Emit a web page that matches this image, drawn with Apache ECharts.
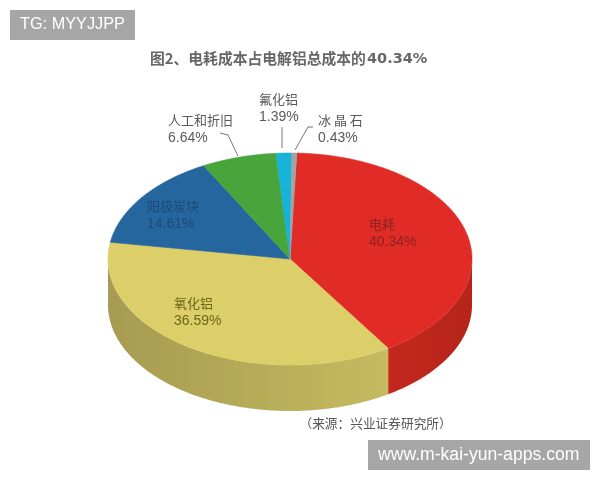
<!DOCTYPE html>
<html>
<head>
<meta charset="utf-8">
<style>html,body{margin:0;padding:0;background:#fff}#c{width:600px;height:480px}</style>
<script src="https://cdn.jsdelivr.net/npm/echarts@6/dist/echarts.min.js"></script>
</head>
<body>
<div id="c"></div>
<script>
var titleHead = '图2、电耗成本占电解铝总成本的';
var titleTail = '40.34%';
var sourceText = '（来源：兴业证券研究所）';
var watermarkTop = 'TG: MYYJJPP';
var watermarkBottom = 'www.m-kai-yun-apps.com';
var categories = ['电耗', '氧化铝', '阳极炭块', '人工和折旧', '氟化铝', '冰晶石'];
var shares = [40.34, 36.59, 14.61, 6.64, 1.39, 0.43];
var topColors = ['#e02b27', '#dccf69', '#26669f', '#47a53c', '#17b2d8', '#a3a3a3'];
var wallColors = [['#c4281e', '#b5241a'], ['#a69b50', '#c6ba60'], ['#1c4f7c', '#1c4f7c'], ['#357c2d', '#357c2d'], ['#1089a8', '#1089a8'], ['#808080', '#808080']];

var CX = 290, CY = 259, RX = 182, RY = 106, DEPTH = 46, START = 2.15;
var FONT = '"Noto Sans CJK SC", "Liberation Sans", sans-serif';

function pt(deg, dy) {
  var a = deg * Math.PI / 180;
  return [CX + RX * Math.sin(a), CY - RY * Math.cos(a) + (dy || 0)];
}
var total = shares.reduce(function (s, v) { return s + v; }, 0);

function renderSlice(params, api) {
  var idx = params.dataIndex;
  var before = 0;
  for (var i = 0; i < idx; i++) before += shares[i];
  var v = api.value(0);
  var a0 = START + before / total * 360;
  var a1 = a0 + v / total * 360;
  var children = [];
  var w0 = Math.max(a0, 90), w1 = Math.min(a1, 270);
  if (w1 > w0) {
    var wall = [], d;
    for (d = w0; d < w1; d += 0.5) wall.push(pt(d));
    wall.push(pt(w1));
    for (d = w1; d > w0; d -= 0.5) wall.push(pt(d, DEPTH));
    wall.push(pt(w0, DEPTH));
    children.push({
      type: 'polygon', shape: { points: wall },
      style: {
        fill: { type: 'linear', x: 0, y: 0, x2: 1, y2: 0, colorStops: [
          { offset: 0, color: wallColors[idx][0] }, { offset: 1, color: wallColors[idx][1] }
        ] }
      }
    });
  }
  var top = [[CX, CY]], t;
  for (t = a0; t < a1; t += 0.5) top.push(pt(t));
  top.push(pt(a1));
  children.push({
    type: 'polygon', shape: { points: top }, z2: 10,
    style: { fill: topColors[idx], stroke: topColors[idx], lineWidth: 0.6 }
  });
  return { type: 'group', children: children };
}

function label(x, y, name, value, color) {
  return [
    { type: 'text', z: 20, x: x, y: y, style: { text: name, fill: color, font: '13px ' + FONT, textVerticalAlign: 'middle', textAlign: 'left' } },
    { type: 'text', z: 20, x: x, y: y + 18, style: { text: value.toFixed(2) + '%', fill: color, font: '14px "Liberation Sans", sans-serif', textVerticalAlign: 'middle', textAlign: 'left' } }
  ];
}
function leader(points) {
  return { type: 'polyline', z: 20, shape: { points: points }, style: { stroke: '#777', lineWidth: 1, fill: null } };
}

var labelColors = ['#8c2320', '#6e6518', '#1e4a78', '#5a5a5a', '#5a5a5a', '#5a5a5a'];
var labelPos = [[369, 224], [174, 303], [147, 206], [168, 120], [259, 99], [318, 120]];
var labelGraphics = [];
categories.forEach(function (c, i) {
  var name = c;
  if (i === 5) name = c.split('').join(' ');
  labelGraphics = labelGraphics.concat(label(labelPos[i][0], labelPos[i][1], name, shares[i], labelColors[i]));
});

var chart = echarts.init(document.getElementById('c'), null, { renderer: 'canvas' });
chart.setOption({
  animation: false,
  backgroundColor: '#fff',
  series: [{
    type: 'custom',
    coordinateSystem: 'none',
    renderItem: renderSlice,
    data: shares.map(function (v, i) { return { name: categories[i], value: [v] }; }),
    silent: true
  }],
  graphic: [
    { type: 'rect', z: 30, shape: { x: 10, y: 10, width: 125, height: 30 }, style: { fill: '#a6a6a6' } },
    { type: 'text', z: 31, x: 20, y: 25, style: { text: watermarkTop, fill: '#fff', font: '16.3px "Liberation Sans", sans-serif', textVerticalAlign: 'middle' } },
    { type: 'rect', z: 30, shape: { x: 368, y: 440, width: 222, height: 30 }, style: { fill: '#a6a6a6' } },
    { type: 'text', z: 31, x: 378, y: 455, style: { text: watermarkBottom, fill: '#fff', font: '17.6px "Liberation Sans", sans-serif', textVerticalAlign: 'middle' } },
    { type: 'text', z: 20, x: 150, y: 58, style: { text: titleHead, fill: '#666', font: 'bold 14.8px ' + FONT, textVerticalAlign: 'middle' } },
    { type: 'text', z: 20, x: 367, y: 59, style: { text: titleTail, fill: '#666', font: 'bold 14.5px "DejaVu Sans", sans-serif', textVerticalAlign: 'middle' } },
    { type: 'text', z: 20, x: 299.5, y: 423, style: { text: sourceText, fill: '#555', font: '12.7px ' + FONT, textVerticalAlign: 'middle' } },
    leader([[220, 133], [228, 135], [238, 156]]),
    leader([[282, 127], [282, 148]]),
    leader([[313, 127], [308, 127], [295, 150]])
  ].concat(labelGraphics)
});
</script>
</body>
</html>
